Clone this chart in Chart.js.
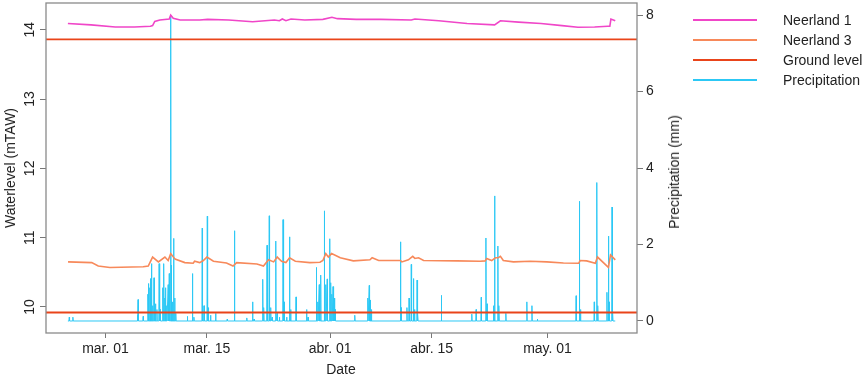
<!DOCTYPE html>
<html lang="en">
<head>
<meta charset="UTF-8">
<title>Waterlevel Neerland</title>
<script src="https://cdn.jsdelivr.net/npm/chart.js@4"></script>
<style>
  body { margin: 0; background: #fff; font-family: "Liberation Sans", Arial, sans-serif; }
  #wrap { position: relative; width: 865px; height: 377px; }
  .lbl { position: absolute; font-size: 14px; line-height: 16px; color: #222; white-space: nowrap; }
  .rot { transform: translate(-50%, -50%) rotate(-90deg); }
  .mid { transform: translate(-50%, -50%); }
  .key { position: absolute; left: 693px; width: 64px; height: 0; border-top: 2px solid; }
  .keytxt { position: absolute; left: 783px; font-size: 14px; line-height: 16px; color: #222; transform: translateY(-50%); white-space: nowrap; }
</style>
</head>
<body>
<div id="wrap">
  <canvas id="chart" width="865" height="377"></canvas>

  <div class="lbl rot" style="left:10px; top:168px;">Waterlevel (mTAW)</div>
  <div class="lbl rot" style="left:674px; top:172px;">Precipitation (mm)</div>
  <div class="lbl mid" style="left:341px; top:369px;">Date</div>

  <div class="key" style="top:19px; border-color:#F046C8;"></div>
  <div class="keytxt" style="top:20px;">Neerland 1</div>
  <div class="key" style="top:39px; border-color:#F7895A;"></div>
  <div class="keytxt" style="top:40px;">Neerland 3</div>
  <div class="key" style="top:59px; border-color:#E9441A;"></div>
  <div class="keytxt" style="top:60px;">Ground level</div>
  <div class="key" style="top:79px; border-color:#2CC8F5;"></div>
  <div class="keytxt" style="top:80px;">Precipitation</div>
</div>

<script>
// days counted from 1 March
const dateTicks = [0, 14, 31, 45, 61];
const dateLabels = ["mar. 01", "mar. 15", "abr. 01", "abr. 15", "may. 01"];
const levelTicks = [10, 11, 12, 13, 14];
const rainTicks = [0, 2, 4, 6, 8];

const n1Day = [-5.19, -2.0, 1.35, 4.0, 6.2, 6.5, 6.8, 7.5, 8.8, 9.0, 9.35, 10.3, 13.0, 14.1, 17.0, 20.3,
  23.3, 24.0, 24.4, 24.9, 25.6, 27.5, 30.0, 31.25, 32.0, 34.6, 38.0, 42.2, 42.7, 46.0, 49.9, 53.7,
  54.5, 57.0, 60.1, 63.0, 65.2, 67.5, 69.3, 69.6, 69.75, 70.35];
const n1Level = [14.09, 14.07, 14.04, 14.04, 14.05, 14.06, 14.12, 14.14, 14.155, 14.21, 14.165, 14.14, 14.14, 14.15, 14.14, 14.115,
  14.14, 14.13, 14.155, 14.13, 14.155, 14.14, 14.15, 14.18, 14.16, 14.15, 14.15, 14.14, 14.155, 14.13, 14.09, 14.07,
  14.13, 14.11, 14.09, 14.06, 14.035, 14.04, 14.05, 14.05, 14.155, 14.13];

const n3Day = [-5.17, -1.9, -1.0, 0.6, 5.2, 5.9, 6.5, 7.3, 8.2, 8.65, 9.0, 9.6, 10.95, 12.1, 12.3, 13.0,
  13.5, 14.0, 14.9, 16.7, 17.6, 18.1, 20.9, 21.8, 22.5, 23.2, 23.7, 24.3, 24.9, 25.4, 26.2, 28.2,
  29.6, 30.0, 30.4, 30.75, 31.2, 32.4, 34.2, 36.5, 36.8, 37.7, 40.7, 40.9, 41.8, 42.4, 42.7, 43.2,
  43.9, 48.5, 51.7, 52.4, 52.6, 53.3, 53.8, 54.2, 54.5, 54.9, 56.3, 58.6, 60.9, 63.2, 65.3, 65.5,
  66.4, 67.6, 67.9, 69.4, 69.7, 70.35];
const n3Level = [10.65, 10.64, 10.59, 10.57, 10.58, 10.59, 10.72, 10.65, 10.72, 10.67, 10.77, 10.69, 10.64, 10.63, 10.66, 10.64,
  10.67, 10.72, 10.66, 10.635, 10.59, 10.64, 10.62, 10.59, 10.68, 10.65, 10.72, 10.66, 10.64, 10.71, 10.66, 10.64,
  10.645, 10.67, 10.77, 10.72, 10.77, 10.71, 10.665, 10.68, 10.71, 10.67, 10.67, 10.65, 10.68, 10.73, 10.70, 10.71,
  10.67, 10.665, 10.66, 10.665, 10.70, 10.67, 10.71, 10.71, 10.73, 10.67, 10.65, 10.66, 10.65, 10.635, 10.63, 10.67,
  10.665, 10.63, 10.72, 10.57, 10.75, 10.68];

const groundLevels = [13.86, 9.92];

// hourly readings above zero; every other hour of the record is dry
const rainStart = -5.19, rainEnd = 70.35;
const rainDay = [-5.0, -4.5, 4.4, 4.5, 5.2,
  5.85, 5.95, 6.1, 6.2, 6.35, 6.5, 6.7, 6.9, 7.1, 7.4, 7.55, 7.9, 8.05, 8.2, 8.3, 8.45, 8.65, 8.8, 9.0, 9.1, 9.25, 9.4, 9.55, 9.7,
  11.3, 12.0, 12.2,
  13.35, 13.6, 14.05, 14.2, 14.5, 15.2, 16.8, 17.8, 19.5, 20.3, 20.5, 21.7, 21.85, 22.3, 22.6, 22.8, 23.0, 23.5, 23.7, 24.0,
  24.5, 24.65, 25.0, 25.4, 25.55, 26.3, 27.75, 27.95, 29.1, 29.3, 29.5, 29.7, 30.2, 30.4, 30.6, 30.95, 31.1, 31.25, 31.4, 31.55, 31.7,
  34.4, 36.2, 36.4, 36.55, 36.7,
  40.7, 40.8, 41.6, 41.9, 42.2, 42.5, 42.65, 43.0, 43.1,
  46.35, 50.55, 51.15, 51.85, 52.5, 52.65, 53.55, 53.7, 54.15, 54.3, 55.25,
  58.15, 58.85, 59.6, 64.95, 65.4, 65.55, 67.45, 67.8, 67.95, 69.2, 69.4, 69.5, 69.9, 70.0];
const rainMm = [0.1, 0.1, 0.15, 0.56, 0.12,
  0.7, 0.98, 0.87, 1.11, 1.5, 0.4, 1.13, 0.45, 0.3, 1.5, 0.3, 0.87, 1.5, 0.6, 0.87, 0.4, 0.95, 1.24, 8.0, 1.46, 0.5, 2.16, 0.6, 0.2,
  0.12, 1.24, 0.1,
  2.43, 0.4, 2.74, 0.35, 0.15, 0.2, 0.05, 2.36, 0.08, 0.5, 0.05, 1.09, 0.35, 1.98, 2.75, 0.35, 0.1, 2.09, 0.2, 0.1,
  2.65, 0.5, 0.1, 2.2, 0.3, 0.63, 0.3, 0.1, 1.4, 0.5, 0.95, 1.2, 2.88, 0.95, 1.1, 2.15, 1.0, 0.7, 0.9, 0.6, 0.3,
  0.15, 0.6, 0.93, 0.55, 0.3,
  2.07, 0.35, 0.35, 0.6, 1.48, 1.11, 0.3, 1.07, 0.2,
  0.67, 0.18, 0.3, 0.62, 2.17, 0.45, 0.4, 3.27, 1.96, 0.4, 0.2,
  0.5, 0.4, 0.05, 0.66, 3.13, 0.3, 0.5, 3.62, 0.4, 0.75, 2.22, 0.5, 2.98, 0.3];

const X_MIN = -8.21, X_MAX = 73.35;
const LEVEL_MIN = 9.624, LEVEL_MAX = 14.386;
const RAIN_MIN = -0.314, RAIN_MAX = 8.314;

const pairs = (xs, ys) => xs.map((x, i) => ({ x: x, y: ys[i] }));

const hour = 1 / 24;
const rainPoints = [{ x: rainStart, y: 0 }];
rainDay.forEach((d, i) => {
  rainPoints.push({ x: d - hour, y: 0 }, { x: d, y: rainMm[i] }, { x: d + hour, y: 0 });
});
rainPoints.push({ x: rainEnd, y: 0 });

Chart.defaults.font.family = '"Liberation Sans", Arial, sans-serif';
Chart.defaults.font.size = 14;
Chart.defaults.color = "#222";

const frameBox = {
  id: "frameBox",
  afterDraw(chart) {
    const { ctx, chartArea: a } = chart;
    ctx.save();
    ctx.strokeStyle = "#8a8a8a";
    ctx.lineWidth = 1.3;
    ctx.strokeRect(a.left, a.top, a.right - a.left, a.bottom - a.top);
    ctx.restore();
  }
};

// R style left labels, turned to read bottom to top
const leftLabels = {
  id: "leftLabels",
  afterDraw(chart) {
    const s = chart.scales.yLevel;
    const ctx = chart.ctx;
    ctx.save();
    ctx.fillStyle = "#222";
    ctx.font = '14px "Liberation Sans", Arial, sans-serif';
    ctx.textAlign = "center";
    ctx.textBaseline = "middle";
    s.ticks.forEach(t => {
      ctx.save();
      ctx.translate(30, s.getPixelForValue(t.value));
      ctx.rotate(-Math.PI / 2);
      ctx.fillText(String(t.value), 0, 0);
      ctx.restore();
    });
    ctx.restore();
  }
};

const gridStyle = { drawOnChartArea: false, color: "#777", lineWidth: 1 };
const noPad = s => { s.paddingTop = 0; s.paddingBottom = 0; };

new Chart(document.getElementById("chart").getContext("2d"), {
  type: "line",
  data: {
    datasets: [
      { label: "Precipitation", data: rainPoints, yAxisID: "yRain", borderColor: "#2CC8F5", borderWidth: 1, order: 4 },
      { label: "Neerland 1", data: pairs(n1Day, n1Level), yAxisID: "yLevel", borderColor: "#F046C8", borderWidth: 1.6, order: 3 },
      { label: "Neerland 3", data: pairs(n3Day, n3Level), yAxisID: "yLevel", borderColor: "#F7895A", borderWidth: 1.6, order: 2 },
      { label: "Ground level", data: [{ x: X_MIN, y: groundLevels[0] }, { x: X_MAX, y: groundLevels[0] }], yAxisID: "yLevel", borderColor: "#E9441A", borderWidth: 1.8, order: 1 },
      { label: "Ground level", data: [{ x: X_MIN, y: groundLevels[1] }, { x: X_MAX, y: groundLevels[1] }], yAxisID: "yLevel", borderColor: "#E9441A", borderWidth: 1.8, order: 0 }
    ]
  },
  options: {
    responsive: false,
    animation: false,
    devicePixelRatio: 1,
    layout: { padding: { top: 3 } },
    elements: { point: { radius: 0 }, line: { tension: 0 } },
    plugins: { legend: { display: false }, tooltip: { enabled: false } },
    scales: {
      x: {
        type: "linear",
        min: X_MIN,
        max: X_MAX,
        afterBuildTicks: s => { s.ticks = dateTicks.map(v => ({ value: v })); },
        afterFit: s => { s.height = 44; s.paddingLeft = 0; s.paddingRight = 0; },
        grid: { ...gridStyle, tickLength: 5 },
        border: { display: false },
        ticks: { padding: 3, maxRotation: 0, autoSkip: false, callback: v => dateLabels[dateTicks.indexOf(v)] }
      },
      yLevel: {
        position: "left",
        min: LEVEL_MIN,
        max: LEVEL_MAX,
        afterBuildTicks: s => { s.ticks = levelTicks.map(v => ({ value: v })); },
        afterFit: s => { s.width = 46; noPad(s); },
        grid: { ...gridStyle, tickLength: 6 },
        border: { display: false },
        ticks: { display: false }
      },
      yRain: {
        position: "right",
        min: RAIN_MIN,
        max: RAIN_MAX,
        afterBuildTicks: s => { s.ticks = rainTicks.map(v => ({ value: v })); },
        afterFit: s => { s.width = 228; noPad(s); },
        grid: { ...gridStyle, tickLength: 6 },
        border: { display: false },
        ticks: { padding: 3 }
      }
    }
  },
  plugins: [frameBox, leftLabels]
});
</script>
</body>
</html>
